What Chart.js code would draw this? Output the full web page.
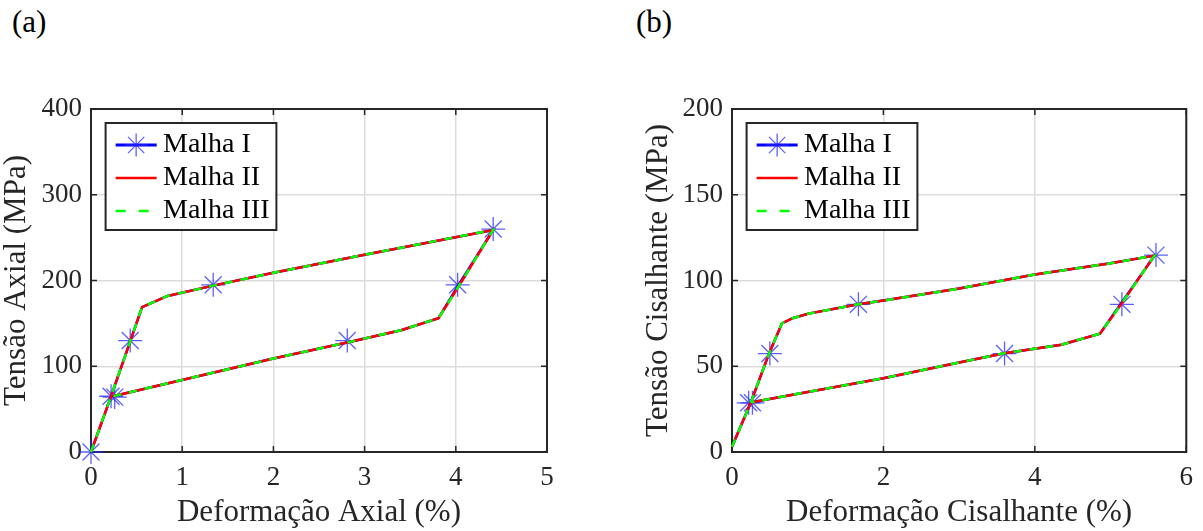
<!DOCTYPE html>
<html><head><meta charset="utf-8">
<script src="https://cdn.jsdelivr.net/npm/chart.js@4.4.1/dist/chart.umd.min.js"></script>
<style>
html,body{margin:0;padding:0;background:#fff;}
#wrap{position:relative;width:1203px;height:531px;overflow:hidden;background:#fff;}
.panel{position:absolute;top:4px;font-family:'Liberation Serif','Times New Roman',serif;font-size:31px;line-height:36px;color:#000;}
canvas{position:absolute;top:0;}
</style></head><body>
<div id="wrap">
<div class="panel" style="left:12px">(a)</div>
<div class="panel" style="left:636px">(b)</div>
<canvas id="chartA" width="602" height="531" style="left:-2px"></canvas>
<canvas id="chartB" width="563" height="531" style="left:640px"></canvas>
</div>
<script>
// ---------- (a) Axial ----------
const xTicksA = [0, 1, 2, 3, 4, 5];
const yTicksA = [0, 100, 200, 300, 400];
const strainA_I   = [0, 0.21, 0.43, 0.56, 0.84, 1.34, 2.0, 3.0, 4.41, 4.02, 3.81, 3.4, 2.82, 2.0, 0.24];
const stressA_I   = [0, 62, 129, 169, 182, 194, 209, 230, 259, 193, 156, 142, 128, 109, 65];
const strainA_II  = [0, 0.21, 0.43, 0.56, 0.84, 1.34, 2.0, 3.0, 4.41, 4.03, 3.81, 3.4, 2.82, 2.0, 0.24];
const stressA_II  = [0, 62, 129, 169, 182, 194, 209, 230, 259, 193, 156, 142, 128, 109, 65];
const strainA_III = [0, 0.21, 0.43, 0.56, 0.84, 1.34, 2.0, 3.0, 4.41, 4.03, 3.81, 3.4, 2.82, 2.0, 0.24];
const stressA_III = [0, 62, 129, 169, 182, 194, 209, 230, 259, 193, 156, 142, 128, 109, 65];
const markStrainA = [0, 0.22, 0.26, 0.43, 1.34, 4.41, 4.02, 2.81];
const markStressA = [0, 65, 64, 130, 195, 260, 195, 130];

// ---------- (b) Shear ----------
const xTicksB = [0, 2, 4, 6];
const yTicksB = [0, 50, 100, 150, 200];
const strainB_I   = [0, 0.25, 0.49, 0.66, 0.8, 1.01, 1.67, 2.0, 3.0, 4.0, 5.0, 5.58, 5.12, 4.86, 4.35, 3.6, 3.0, 2.0, 1.0, 0.26];
const stressB_I   = [3, 29, 57.5, 75, 78, 80.7, 86.2, 88.3, 95.3, 103.5, 110, 114.5, 85.5, 69, 62.5, 57.6, 52.2, 43, 35, 29];
const strainB_II  = [0, 0.25, 0.49, 0.66, 0.8, 1.01, 1.67, 2.0, 3.0, 4.0, 5.0, 5.58, 5.13, 4.86, 4.35, 3.6, 3.0, 2.0, 1.0, 0.26];
const stressB_II  = [3, 29, 57.5, 75, 78, 80.7, 86.2, 88.3, 95.3, 103.5, 110, 114.5, 85.5, 69, 62.5, 57.6, 52.2, 43, 35, 29];
const strainB_III = [0, 0.25, 0.49, 0.66, 0.8, 1.01, 1.67, 2.0, 3.0, 4.0, 5.0, 5.58, 5.13, 4.86, 4.35, 3.6, 3.0, 2.0, 1.0, 0.26];
const stressB_III = [3, 29, 57.5, 75, 78, 80.7, 86.2, 88.3, 95.3, 103.5, 110, 114.5, 85.5, 69, 62.5, 57.6, 52.2, 43, 35, 29];
const markStrainB = [0.22, 0.27, 0.5, 1.67, 5.6, 5.15, 3.6];
const markStressB = [28.7, 28.7, 57.4, 86.1, 114.8, 86.1, 57.4];

const seriesNames = ['Malha I', 'Malha II', 'Malha III'];

const FONT = "'Liberation Serif', 'Times New Roman', serif";
const TXT = '#262626';
const STAR = 'rgba(40,40,255,0.75)';

function pts(xs, ys) { return xs.map((x, i) => ({x: x, y: ys[i]})); }

function drawStar(g, x, y, r) {
  const d = r * Math.SQRT1_2;
  g.beginPath();
  g.moveTo(x - r, y); g.lineTo(x + r, y);
  g.moveTo(x, y - r); g.lineTo(x, y + r);
  g.moveTo(x - d, y - d); g.lineTo(x + d, y + d);
  g.moveTo(x - d, y + d); g.lineTo(x + d, y - d);
  g.stroke();
}

function legendImage(kind) {
  const c = document.createElement('canvas');
  c.width = 91; c.height = 32;
  const g = c.getContext('2d');
  const cx = 45.5 + 6.65, cy = 16, half = 20.5;
  g.lineCap = 'butt';
  if (kind === 0) {
    g.strokeStyle = '#0000ff'; g.lineWidth = 3;
    g.beginPath(); g.moveTo(cx - half, cy); g.lineTo(cx + half, cy); g.stroke();
    g.strokeStyle = STAR; g.lineWidth = 1.3;
    drawStar(g, cx, cy, 11.5);
  } else if (kind === 1) {
    g.strokeStyle = '#ff0000'; g.lineWidth = 2.5;
    g.beginPath(); g.moveTo(cx - half, cy); g.lineTo(cx + half, cy); g.stroke();
  } else {
    g.strokeStyle = '#00ff00'; g.lineWidth = 2.5; g.setLineDash([10, 13]);
    g.beginPath(); g.moveTo(cx - half, cy); g.lineTo(cx + half, cy); g.stroke();
  }
  return c;
}
const legendImgs = [legendImage(0), legendImage(1), legendImage(2)];

const frameAndLegend = {
  id: 'frameAndLegend',
  afterLayout(chart) {
    const ca = chart.chartArea, L = chart.legend;
    L.left = ca.left + 14; L.top = ca.top + 17;
    L.right = ca.right; L.bottom = ca.bottom;
  },
  beforeDatasetsDraw(chart) {
    const ca = chart.chartArea, ctx = chart.ctx;
    const xs = chart.scales.x, ys = chart.scales.y;
    ctx.save();
    ctx.strokeStyle = TXT; ctx.lineWidth = 2;
    ctx.strokeRect(ca.left, ca.top, ca.right - ca.left, ca.bottom - ca.top);
    ctx.beginPath();
    xs.ticks.forEach(t => {
      const x = xs.getPixelForValue(t.value);
      ctx.moveTo(x, ca.bottom); ctx.lineTo(x, ca.bottom - 6);
      ctx.moveTo(x, ca.top); ctx.lineTo(x, ca.top + 6);
    });
    ys.ticks.forEach(t => {
      const y = ys.getPixelForValue(t.value);
      ctx.moveTo(ca.left, y); ctx.lineTo(ca.left + 6, y);
      ctx.moveTo(ca.right, y); ctx.lineTo(ca.right - 6, y);
    });
    ctx.lineWidth = 1.5;
    ctx.stroke();
    ctx.restore();
  },
  afterDatasetsDraw(chart) {
    const ca = chart.chartArea, ctx = chart.ctx;
    const x = ca.left + 14.6, y = ca.top + 14, w = 170.8, h = 107;
    ctx.save();
    ctx.fillStyle = '#ffffff';
    ctx.fillRect(x, y, w, h);
    ctx.lineWidth = 2; ctx.strokeStyle = TXT;
    ctx.strokeRect(x, y, w, h);
    ctx.restore();
    chart.legend.draw();
  }
};

function makeChart(id, d, xT, yT, xTitle, yTitle, yWidth, rightPad) {
  const tickFont = {family: FONT, size: 27};
  const titleFont = {family: FONT, size: 31};
  return new Chart(document.getElementById(id), {
    type: 'scatter',
    data: {
      datasets: [
        {label: seriesNames[0], data: pts(d.Ix, d.Iy), showLine: true, borderColor: '#0000ff', backgroundColor: '#0000ff', borderWidth: 2.5, pointRadius: 0, order: 3, clip: false},
        {label: seriesNames[0] + ' *', data: pts(d.Mx, d.My), showLine: false, pointStyle: 'star', pointRadius: 12, pointBorderColor: STAR, pointBackgroundColor: 'rgba(0,0,0,0)', pointBorderWidth: 1.3, order: 4, clip: false},
        {label: seriesNames[1], data: pts(d.IIx, d.IIy), showLine: true, borderColor: '#ff0000', backgroundColor: '#ff0000', borderWidth: 2.5, pointRadius: 0, order: 2, clip: false},
        {label: seriesNames[2], data: pts(d.IIIx, d.IIIy), showLine: true, borderColor: '#00ff00', backgroundColor: '#00ff00', borderWidth: 2.5, borderDash: [8, 8], pointRadius: 0, order: 1, clip: false}
      ]
    },
    options: {
      responsive: false, animation: false, events: [], devicePixelRatio: 1,
      layout: {padding: {top: 109, right: rightPad, left: 0, bottom: 0}},
      plugins: {
        tooltip: {enabled: false},
        title: {display: false},
        legend: {
          display: true, position: 'chartArea', align: 'start',
          labels: {
            usePointStyle: true, pointStyleWidth: 39, padding: 5,
            font: {family: FONT, size: 28}, color: '#000',
            generateLabels: () => seriesNames.map((n, i) => ({
              text: n, pointStyle: legendImgs[i], datasetIndex: [0, 2, 3][i],
              hidden: false, fontColor: '#000', lineWidth: 0,
              strokeStyle: 'rgba(0,0,0,0)', fillStyle: 'rgba(0,0,0,0)'
            }))
          }
        }
      },
      scales: {
        x: {
          type: 'linear', position: 'bottom', min: xT[0], max: xT[xT.length - 1],
          afterBuildTicks: s => { s.ticks = xT.map(v => ({value: v})); },
          afterFit: s => { s.height = 79; },
          ticks: {font: tickFont, color: TXT, padding: 10, maxRotation: 0, autoSkip: false, callback: (v, i) => String(xT[i])},
          grid: {color: '#dcdcdc', lineWidth: 1.5, drawTicks: false},
          border: {display: false},
          title: {display: true, text: xTitle, font: titleFont, color: TXT, padding: 0}
        },
        y: {
          type: 'linear', position: 'left', min: yT[0], max: yT[yT.length - 1],
          afterBuildTicks: s => { s.ticks = yT.map(v => ({value: v})); },
          afterFit: s => { s.width = yWidth; },
          ticks: {font: tickFont, color: TXT, padding: 9, autoSkip: false, callback: (v, i) => String(yT[i])},
          grid: {color: '#dcdcdc', lineWidth: 1.5, drawTicks: false},
          border: {display: false},
          title: {display: true, text: yTitle, font: titleFont, color: TXT, padding: 0}
        }
      }
    },
    plugins: [frameAndLegend]
  });
}

makeChart('chartA',
  {Ix: strainA_I, Iy: stressA_I, IIx: strainA_II, IIy: stressA_II, IIIx: strainA_III, IIIy: stressA_III, Mx: markStrainA, My: markStressA},
  xTicksA, yTicksA, 'Deformação Axial (%)', 'Tensão Axial (MPa)', 93, 53);
makeChart('chartB',
  {Ix: strainB_I, Iy: stressB_I, IIx: strainB_II, IIy: stressB_II, IIIx: strainB_III, IIIy: stressB_III, Mx: markStrainB, My: markStressB},
  xTicksB, yTicksB, 'Deformação Cisalhante (%)', 'Tensão Cisalhante (MPa)', 92, 14);
</script>
</body></html>
